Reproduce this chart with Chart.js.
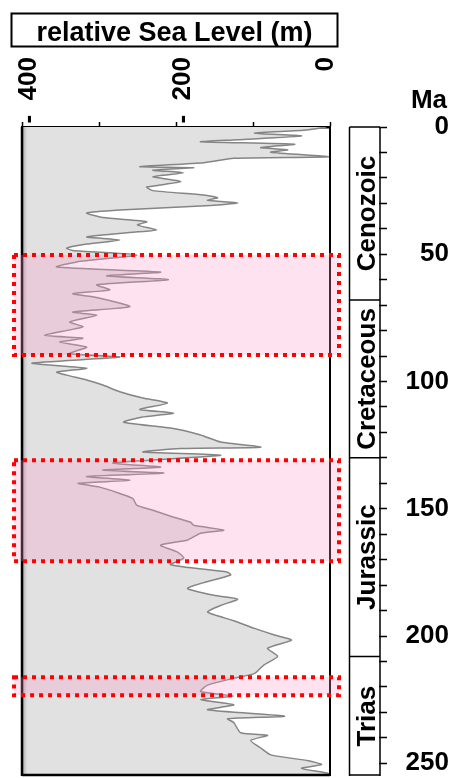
<!DOCTYPE html>
<html><head><meta charset="utf-8">
<script src="https://cdn.jsdelivr.net/npm/chart.js@4/dist/chart.umd.min.js"></script>
<style>html,body{margin:0;padding:0;background:#fff;overflow:hidden}#wrap{width:449px;height:778px;position:relative}</style>
</head><body><div id="wrap"><canvas id="c" width="449" height="778"></canvas></div>
<script>
// ---- data ----
const ages = [0, 1.2, 2.4, 3.5, 5, 5.8, 6.8, 8.1, 9, 9.9, 11.7, 12.3, 14, 15.6, 16, 17, 18, 19.5, 21.5, 23.6, 25, 26.7, 27.8, 28.8, 29.8, 30.8, 32.6, 33.8, 35.6, 37.2, 38.5, 40.5, 41.2, 43.2, 44.4, 46, 47.6, 48.5, 50.3, 53, 55, 57, 58.5, 60, 62, 64, 65.5, 67, 70.6, 72.7, 74, 76.6, 78.5, 81.8, 83, 84.5, 86.5, 89, 90.4, 92.8, 94.8, 96.3, 97.5, 99.4, 101.4, 104, 106.5, 108.5, 111, 112.4, 114, 116, 118.3, 121, 123.8, 125.8, 126.3, 127.7, 129, 132, 133.6, 134.8, 136, 137.3, 138.8, 140, 141.5, 144, 146, 148.6, 150.6, 153.3, 155.3, 156.5, 158.4, 159.6, 162.3, 164.3, 167, 169.4, 172, 174.9, 176, 181.2, 184, 185.5, 188, 190.6, 194, 197, 199.6, 201.6, 204.8, 208, 211.4, 214.7, 216.6, 219.3, 221.8, 223.6, 225, 227, 229, 231.5, 232.5, 234, 238, 239, 241, 244, 246.7, 249, 250.5, 252, 254, 255];
const seaLevel = [5, 30, 98, 37, 120, 168, 46, 90, 55, 77, 2, 125, 164, 247, 177, 230, 190, 230, 194, 238, 230, 164, 146, 159, 120, 155, 273, 316, 295, 238, 250, 225, 250, 316, 273, 316, 342, 334, 251, 329, 355, 220, 290, 210, 303, 286, 334, 303, 260, 334, 303, 338, 321, 371, 321, 351, 316, 338, 273, 387, 316, 355, 342, 316, 295, 273, 243, 211, 247, 203, 245, 268, 207, 168, 142, 90, 194, 243, 142, 282, 220, 295, 216, 316, 260, 327, 299, 273, 256, 251, 230, 203, 181, 177, 138, 168, 185, 220, 198, 190, 207, 133, 129, 185, 151, 120, 142, 159, 125, 98, 72, 50, 81, 68, 86, 98, 125, 159, 168, 125, 168, 125, 159, 59, 133, 125, 116, 81, 103, 90, 77, 28, 11, 37, 2, 2];
const xTickValues = [400, 300, 200, 100, 0];
const xTickLabels = ['-  400', '', '-  200', '', '0'];
const maTicks = [0,10,20,30,40,50,60,70,80,90,100,110,120,130,140,150,160,170,180,190,200,210,220,230,240,250];
const maLabelled = [0, 50, 100, 150, 200, 250];
const eraNames = ['Cenozoic', 'Cretaceous', 'Jurassic', 'Trias'];
const eraStart = [0, 68, 130, 208];
const eraEnd = [68, 130, 208, 255];
const boxStart = [50.3, 130.9, 216.2];
const boxEnd = [89.6, 170.6, 223.3];
const titleText = 'relative Sea Level (m)';
const yUnit = 'Ma';

const FAM = '"Liberation Sans", Arial, sans-serif';
const BF = 'bold 26px ' + FAM;

const deco = {
  id: 'deco',
  afterDatasetsDraw(chart) {
    const {ctx, chartArea: a, scales: {y}} = chart;
    ctx.save();
    const g = ctx.createLinearGradient(a.left, 0, a.left + 6, 0);
    g.addColorStop(0, 'rgba(140,140,140,0.9)');
    g.addColorStop(1, 'rgba(200,200,200,0)');
    ctx.fillStyle = g;
    ctx.fillRect(a.left, a.top, 6, a.bottom - a.top);
    ctx.strokeStyle = '#000';
    ctx.lineWidth = 2.5;
    ctx.beginPath();
    ctx.moveTo(a.left, a.top); ctx.lineTo(a.left, a.bottom);
    ctx.moveTo(a.left, a.bottom - 1); ctx.lineTo(a.right, a.bottom - 1);
    ctx.stroke();
    ctx.lineWidth = 2;
    ctx.beginPath();
    ctx.moveTo(a.right, a.top); ctx.lineTo(a.right, a.bottom);
    ctx.stroke();
    const L = a.left - 8, R = a.right + 9;
    for (let i = 0; i < boxStart.length; i++) {
      const t = y.getPixelForValue(boxStart[i]);
      const b = y.getPixelForValue(boxEnd[i]);
      ctx.fillStyle = 'rgba(255,150,200,0.28)';
      ctx.fillRect(L, t, R - L, b - t);
      ctx.setLineDash([4, 5]);
      ctx.lineWidth = 4;
      ctx.strokeStyle = '#ff0000';
      ctx.strokeRect(L, t, R - L, b - t);
      ctx.setLineDash([]);
    }
    ctx.restore();
  },
  afterDraw(chart) {
    const {ctx, chartArea: a, scales: {x, y}} = chart;
    ctx.save();
    ctx.fillStyle = '#000';
    ctx.strokeStyle = '#000';
    ctx.lineWidth = 2;
    ctx.strokeRect(11.5, 13.5, 326, 33);
    ctx.font = 'bold 27px ' + FAM;
    ctx.textAlign = 'center';
    ctx.textBaseline = 'alphabetic';
    ctx.fillText(titleText, 174.5, 40.5);
    ctx.font = BF;
    for (let i = 0; i < xTickValues.length; i++) {
      if (!xTickLabels[i]) continue;
      const px = Math.min(x.getPixelForValue(xTickValues[i]) + 14, a.right + 3);
      ctx.save();
      ctx.translate(px, 57);
      ctx.rotate(-Math.PI / 2);
      ctx.textAlign = 'right';
      ctx.textBaseline = 'alphabetic';
      ctx.fillText(xTickLabels[i], 0, 0);
      ctx.restore();
    }
    ctx.textAlign = 'right';
    ctx.fillText(yUnit, 447, 108);
    const cL = a.right + 19.5, cR = a.right + 50;
    ctx.lineWidth = 1.5;
    ctx.beginPath();
    ctx.moveTo(cL, a.top); ctx.lineTo(cL, a.bottom);
    ctx.moveTo(cR, a.top); ctx.lineTo(cR, a.bottom);
    for (let i = 0; i < eraNames.length; i++) {
      const t = y.getPixelForValue(eraStart[i]);
      ctx.moveTo(cL, t); ctx.lineTo(cR, t);
    }
    ctx.moveTo(cL, a.bottom - 1); ctx.lineTo(cR, a.bottom - 1);
    ctx.stroke();
    for (let i = 0; i < eraNames.length; i++) {
      const t = y.getPixelForValue(eraStart[i]);
      const b = y.getPixelForValue(eraEnd[i]);
      ctx.save();
      ctx.translate(cR - 5, (t + b) / 2);
      ctx.rotate(-Math.PI / 2);
      ctx.textAlign = 'center';
      ctx.textBaseline = 'alphabetic';
      ctx.fillText(eraNames[i], 0, 0);
      ctx.restore();
    }
    ctx.restore();
  }
};

new Chart(document.getElementById('c'), {
  type: 'line',
  data: {
    datasets: [{
      data: ages.map((a, i) => ({x: seaLevel[i], y: a})),
      borderColor: '#858585',
      borderWidth: 1.5,
      pointRadius: 0,
      tension: 0.2,
      fill: {value: 400},
      backgroundColor: '#e1e1e1'
    }]
  },
  options: {
    indexAxis: 'y',
    responsive: false,
    animation: false,
    events: [],
    layout: {autoPadding: false, padding: {left: 22, right: 0, top: 122, bottom: 2}},
    plugins: {legend: {display: false}, tooltip: {enabled: false}, title: {display: false}},
    scales: {
      x: {
        type: 'linear', position: 'top', reverse: true, min: 0, max: 400,
        afterBuildTicks: s => { s.ticks = xTickValues.map(v => ({value: v})); },
        afterFit: s => { s.height = 5; s.paddingLeft = 0; s.paddingRight = 0; s.paddingTop = 0; s.paddingBottom = 0; },
        ticks: {display: false},
        grid: {drawOnChartArea: false, tickLength: 5, tickWidth: 1.5, tickColor: '#000'},
        border: {display: true, color: '#000', width: 2.5}
      },
      y: {
        type: 'linear', position: 'right', reverse: true, min: 0, max: 255,
        afterBuildTicks: s => { s.ticks = maTicks.map(v => ({value: v})); },
        afterFit: s => { s.width = 119; s.paddingTop = 0; s.paddingBottom = 0; s.paddingLeft = 0; s.paddingRight = 0; },
        ticks: {
          autoSkip: false, maxRotation: 0, minRotation: 0,
          callback: v => maLabelled.includes(v) ? String(v) : '',
          font: {family: FAM, size: 26, weight: 'bold'}, color: '#000',
          crossAlign: 'far', padding: 15
        },
        grid: {drawOnChartArea: false, tickLength: 58, tickWidth: 1.5, tickColor: '#000', tickBorderDash: [0, 49, 8, 1000]},
        border: {display: false}
      }
    }
  },
  plugins: [deco]
});
</script></body></html>
